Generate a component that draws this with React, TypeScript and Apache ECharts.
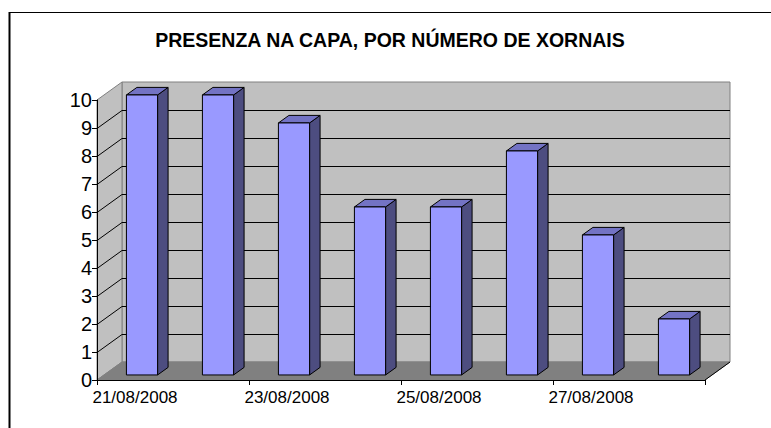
import React, { useEffect, useRef } from "react";
import * as echarts from "echarts";

const TITLE = "PRESENZA NA CAPA, POR NÚMERO DE XORNAIS";
const categories = [
  "21/08/2008",
  "22/08/2008",
  "23/08/2008",
  "24/08/2008",
  "25/08/2008",
  "26/08/2008",
  "27/08/2008",
  "28/08/2008",
];
const values = [10, 10, 9, 6, 6, 8, 5, 2];
const yTicks = [0, 1, 2, 3, 4, 5, 6, 7, 8, 9, 10];

const FONT = "'Liberation Sans', Arial, sans-serif";
const DEPTH_X = 25;
const DEPTH_Y = -18;

export default function App() {
  const ref = useRef<HTMLDivElement>(null);

  useEffect(() => {
    if (!ref.current) return;
    const chart = echarts.init(ref.current, null, { renderer: "svg" });

    const wallsRender = (params: any, api: any) => {
      const cs = params.coordSys;
      const x = cs.x;
      const y = cs.y;
      const w = cs.width;
      const h = cs.height;
      const dx = DEPTH_X;
      const dy = DEPTH_Y;
      const children: any[] = [];
      children.push({
        type: "rect",
        shape: { x: x + dx, y: y + dy, width: w, height: h },
        style: { fill: "#C0C0C0", stroke: "#808080", lineWidth: 1 },
      });
      children.push({
        type: "polygon",
        shape: {
          points: [
            [x, y + h],
            [x, y],
            [x + dx, y + dy],
            [x + dx, y + h + dy],
          ],
        },
        style: { fill: "#C0C0C0", stroke: "#808080", lineWidth: 1 },
      });
      children.push({
        type: "polygon",
        shape: {
          points: [
            [x, y + h],
            [x + w, y + h],
            [x + w + dx, y + h + dy],
            [x + dx, y + h + dy],
          ],
        },
        style: { fill: "#808080", stroke: "#808080", lineWidth: 1 },
      });
      children.push({
        type: "line",
        shape: { x1: x + w, y1: y + h, x2: x + w + dx, y2: y + h + dy },
        style: { stroke: "#000", lineWidth: 1 },
      });
      yTicks.forEach((v) => {
        if (v === 0 || v === yTicks[yTicks.length - 1]) return;
        const yv = Math.round(api.coord([0, v])[1]) + 0.5;
        children.push({
          type: "line",
          shape: { x1: x + dx, y1: yv + dy, x2: x + w + dx, y2: yv + dy },
          style: { stroke: "#000", lineWidth: 1 },
        });
        children.push({
          type: "line",
          shape: { x1: x, y1: yv, x2: x + dx, y2: yv + dy },
          style: { stroke: "#000", lineWidth: 1 },
        });
      });
      return { type: "group", children };
    };

    const barsRender = (params: any, api: any) => {
      const idx = api.value(0);
      const val = api.value(1);
      const top = api.coord([idx, val]);
      const base = api.coord([idx, 0]);
      const band = api.size([1, 0])[0];
      const fw = band * 0.41;
      const f1 = 0.28;
      const f2 = 0.7;
      const ox1 = DEPTH_X * f1;
      const oy1 = DEPTH_Y * f1;
      const ox2 = DEPTH_X * f2;
      const oy2 = DEPTH_Y * f2;
      const xl = top[0] - fw / 2 + ox1;
      const xr = top[0] + fw / 2 + ox1;
      const yt = top[1] + oy1;
      const yb = base[1] + oy1;
      const sdx = ox2 - ox1;
      const sdy = oy2 - oy1;
      const border = { stroke: "#000", lineWidth: 1, lineJoin: "round" };
      return {
        type: "group",
        children: [
          {
            type: "polygon",
            shape: {
              points: [
                [xr, yt],
                [xr, yb],
                [xr + sdx, yb + sdy],
                [xr + sdx, yt + sdy],
              ],
            },
            style: { fill: "#4D4D80", ...border },
          },
          {
            type: "polygon",
            shape: {
              points: [
                [xl, yt],
                [xr, yt],
                [xr + sdx, yt + sdy],
                [xl + sdx, yt + sdy],
              ],
            },
            style: { fill: "#7373C4", ...border },
          },
          {
            type: "rect",
            shape: { x: xl, y: yt, width: xr - xl, height: yb - yt },
            style: { fill: "#9999FF", ...border },
          },
        ],
      };
    };

    chart.setOption({
      animation: false,
      backgroundColor: "#fff",
      title: {
        text: TITLE,
        left: 385,
        top: 25,
        textAlign: "center",
        textStyle: {
          fontFamily: FONT,
          fontSize: 19.5,
          fontWeight: "bold",
          color: "#000",
        },
      },
      graphic: [
        {
          type: "line",
          shape: { x1: 9, y1: 12.5, x2: 771, y2: 12.5 },
          style: { stroke: "#000", lineWidth: 1 },
        },
        {
          type: "line",
          shape: { x1: 9.5, y1: 12, x2: 9.5, y2: 428 },
          style: { stroke: "#000", lineWidth: 2 },
        },
      ],
      grid: { left: 97, top: 100, width: 608, height: 280 },
      xAxis: {
        type: "category",
        data: categories,
        boundaryGap: true,
        axisLine: { show: true, lineStyle: { color: "#000", width: 1 } },
        axisTick: {
          show: true,
          interval: 1,
          length: 5,
          lineStyle: { color: "#000" },
        },
        axisLabel: {
          interval: 1,
          margin: 9,
          fontFamily: FONT,
          fontSize: 17,
          color: "#000",
        },
        splitLine: { show: false },
        z: 10,
      },
      yAxis: {
        type: "value",
        min: 0,
        max: 10,
        interval: 1,
        axisLine: { show: true, lineStyle: { color: "#000", width: 1 } },
        axisTick: { show: true, length: 5, lineStyle: { color: "#000" } },
        axisLabel: {
          margin: 5,
          fontFamily: FONT,
          fontSize: 20,
          color: "#000",
        },
        splitLine: { show: false },
        z: 10,
      },
      series: [
        {
          type: "custom",
          name: "walls",
          renderItem: wallsRender,
          data: [[0, 0]],
          encode: { x: 0, y: 1 },
          silent: true,
          z: 1,
        },
        {
          type: "custom",
          name: "bars",
          renderItem: barsRender,
          data: values.map((v, i) => [i, v]),
          encode: { x: 0, y: 1 },
          z: 5,
        },
      ],
    });

    return () => chart.dispose();
  }, []);

  return (
    <div
      ref={ref}
      style={{ position: "fixed", left: 0, top: 0, width: 771, height: 428 }}
    />
  );
}
